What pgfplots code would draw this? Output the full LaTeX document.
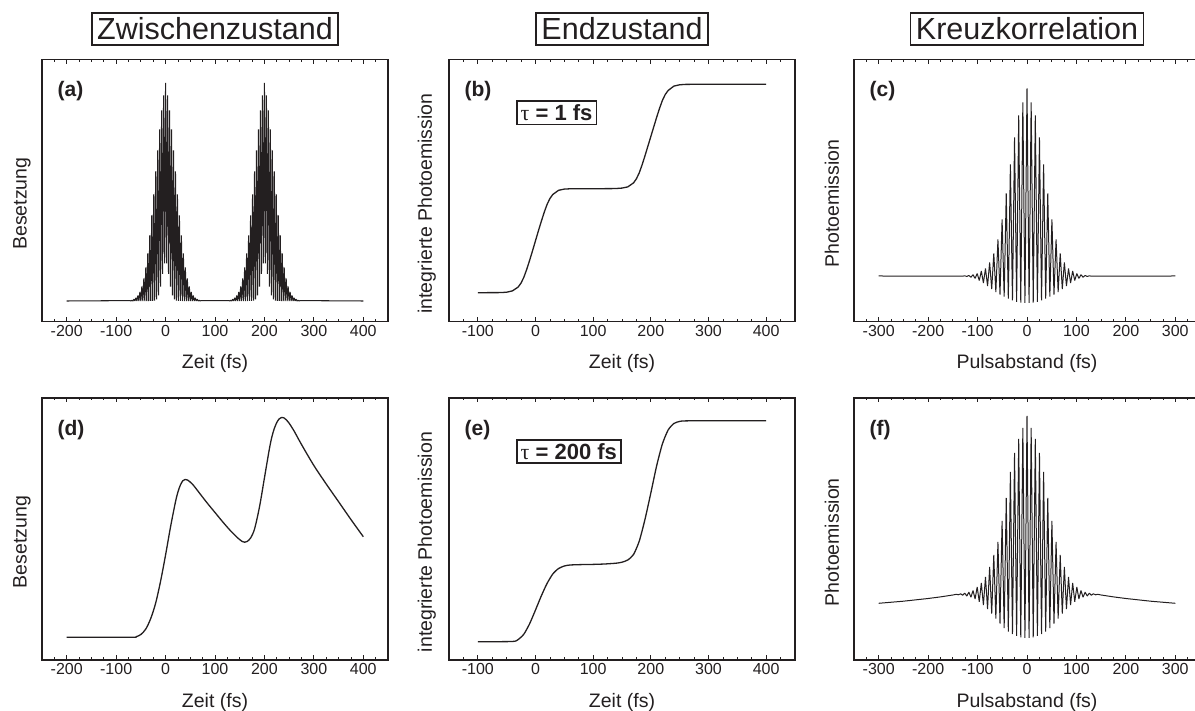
\documentclass[border=0pt]{standalone}
\usepackage{fontspec}
\setmainfont{Liberation Sans}
\newfontfamily\taufont{Liberation Serif}
\usepackage{pgfplots}
\pgfplotsset{compat=1.18}
\definecolor{ink}{RGB}{35,31,32}

\newcommand{\labelfont}{\fontsize{19.5}{22}\selectfont}
\pgfplotsset{
  panel/.style={
    scale only axis, width=346pt, height=262pt,
    anchor=south west,
    ymin=0, ymax=262,
    axis line style={line width=1.3pt, ink},
    tick style={line width=0.8pt, ink},
    tick align=inside,
    xtick distance=100, minor x tick num=3,
    ytick=\empty,
    major tick length=4.5pt, minor tick length=2.5pt,
    tick label style={font=\fontsize{16}{18}\selectfont, text=ink},
    /pgf/number format/assume math mode=true,
    every axis x label/.style={at={(axis description cs:0.5,0)}, anchor=center, yshift=-42pt,
      font=\labelfont, text=ink},
    every axis y label/.style={at={(axis description cs:-0.064,0.45)}, anchor=center, rotate=90,
      font=\labelfont, text=ink},
    every axis title/.style={at={(axis description cs:0.5,1)}, anchor=center, yshift=30.5pt,
      draw=ink, line width=1.8pt, inner xsep=5.5pt, inner ysep=4.5pt, text=ink,
      font=\fontsize{30.5}{34}\selectfont},
  },
  curve/.style={ink, line width=1pt, line join=bevel},
}
\newcommand{\panellabel}[1]{\node[anchor=west, text=ink, font=\fontsize{21}{24}\selectfont\bfseries]
  at (rel axis cs:0.035,0.878) {(#1)};}
\newcommand{\taubox}[1]{\node[anchor=west, draw=ink, line width=1.8pt, inner xsep=4pt, inner ysep=3.5pt, text=ink,
  font=\fontsize{22}{24}\selectfont\bfseries] at (rel axis cs:0.193,0.796) {{\taufont\mdseries τ} = #1 fs};}

\begin{document}
\begin{tikzpicture}
\useasboundingbox (0,0) rectangle (1195pt,711pt);

% (a) intermediate-state population, tau = 1 fs
\begin{axis}[panel, at={(42pt,389.5pt)}, xmin=-250, xmax=450,
  minor ytick={20,40,...,240},
  title={Zwischenzustand}, xlabel={Zeit (fs)}, ylabel={Besetzung},
  every axis y label/.append style={at={(axis description cs:-0.058,0.45)}}]
\addplot[curve, line width=1.05pt] coordinates {
(-200,20.5) (-72,20.9) (-70,20.5) (-68,21.3) (-66,20.5) (-64,22.3) (-62,20.5) (-60,23.7) (-58,20.5)
(-56,26) (-54,20.5) (-52,29.5) (-50,20.5) (-48,35) (-46,20.5) (-44,43) (-42,20.5) (-40,54) (-38,20.5)
(-36,68) (-34,20.5) (-32,86) (-30,20.5) (-28,106) (-26,20.5) (-24,127) (-22,20.8) (-20,150) (-18,22)
(-16,171) (-14,26) (-12,192) (-10,34.8) (-8,211) (-6,47.7) (-4,226) (-2,58) (0,238.5) (2,58) (4,226)
(6,47.7) (8,211) (10,34.8) (12,192) (14,26) (16,171) (18,22) (20,150) (22,20.8) (24,127) (26,20.5)
(28,106) (30,20.5) (32,86) (34,20.5) (36,68) (38,20.5) (40,54) (42,20.5) (44,43) (46,20.5) (48,35)
(50,20.5) (52,29.5) (54,20.5) (56,26) (58,20.5) (60,23.7) (62,20.5) (64,22.3) (66,20.5) (68,21.3)
(70,20.5) (72,20.9)
(128,20.9) (130,20.5) (132,21.3) (134,20.5) (136,22.3) (138,20.5) (140,23.7) (142,20.5) (144,26)
(146,20.5) (148,29.5) (150,20.5) (152,35) (154,20.5) (156,43) (158,20.5) (160,54) (162,20.5) (164,68)
(166,20.5) (168,86) (170,20.5) (172,106) (174,20.5) (176,127) (178,20.8) (180,150) (182,22) (184,171)
(186,26) (188,192) (190,34.8) (192,211) (194,47.7) (196,226) (198,58) (200,238.5) (202,58) (204,226)
(206,47.7) (208,211) (210,34.8) (212,192) (214,26) (216,171) (218,22) (220,150) (222,20.8) (224,127)
(226,20.5) (228,106) (230,20.5) (232,86) (234,20.5) (236,68) (238,20.5) (240,54) (242,20.5) (244,43)
(246,20.5) (248,35) (250,20.5) (252,29.5) (254,20.5) (256,26) (258,20.5) (260,23.7) (262,20.5)
(264,22.3) (266,20.5) (268,21.3) (270,20.5) (272,20.9) (400,20.5)
};
\panellabel{a}
\end{axis}

% (b) integrated photoemission, tau = 1 fs
\begin{axis}[panel, at={(449pt,389.5pt)}, xmin=-150, xmax=450,
  minor ytick={29.8,44.5,...,251},
  title={Endzustand}, xlabel={Zeit (fs)}, ylabel={integrierte Photoemission}]
\addplot[curve, line width=1.3pt] coordinates {
(-100,28.8) (-60,28.9) (-50,29.3) (-40,30.6) (-30,34.5) (-25,38.5) (-20,44.5) (-15,52.5)
(-10,61.5) (-5,71) (0,80.8) (5,90.6) (10,100) (15,109) (20,117) (25,123) (30,127)
(40,131.2) (50,132.4) (60,132.7) (80,132.8) (130,132.85) (140,133.0) (150,133.4) (160,134.6)
(170,138.6) (175,142.7) (180,148.8) (185,156.9) (190,166) (195,175.5) (200,185.0) (205,194.5)
(210,204) (215,213) (220,221) (225,227) (230,231) (240,235.4) (250,236.7) (260,237.1)
(280,237.2) (400,237.2)
};
\panellabel{b}
\taubox{1}
\end{axis}

% (c) cross-correlation, tau = 1 fs
\begin{axis}[panel, at={(854pt,389.5pt)}, xmin=-350, xmax=350,
  minor ytick={19.8,38.2,...,250},
  title={Kreuzkorrelation}, xlabel={Pulsabstand (fs)}, ylabel={Photoemission}]
\addplot[curve, line width=1pt] coordinates {
(-300,45.5) (-130.2,45.3) (-126,45.7) (-121.8,45) (-117.6,46) (-113.4,44.3) (-109.2,46.8) (-105,43)
(-100.8,48) (-96.6,41) (-92.4,50.5) (-88.2,38.5) (-84,53) (-79.8,35.5) (-75.6,59) (-71.4,32.5)
(-67.2,68) (-63,29.5) (-58.8,82) (-54.6,27) (-50.4,102) (-46.2,24.8) (-42,128) (-37.8,22.8)
(-33.6,157) (-29.4,21) (-25.2,184) (-21,19.6) (-16.8,206) (-12.6,18.8) (-8.4,219) (-4.2,18.5)
(0,233) (4.2,18.5) (8.4,219) (12.6,18.8) (16.8,206) (21,19.6) (25.2,184) (29.4,21) (33.6,157)
(37.8,22.8) (42,128) (46.2,24.8) (50.4,102) (54.6,27) (58.8,82) (63,29.5) (67.2,68) (71.4,32.5)
(75.6,59) (79.8,35.5) (84,53) (88.2,38.5) (92.4,50.5) (96.6,41) (100.8,48) (105,43) (109.2,46.8)
(113.4,44.3) (117.6,46) (121.8,45) (126,45.7) (130.2,45.3) (300,45.5)
};
\panellabel{c}
\end{axis}

% (d) intermediate-state population, tau = 200 fs
\begin{axis}[panel, at={(42pt,51pt)}, xmin=-250, xmax=450,
  minor ytick={22.7,30,...,255},
  xlabel={Zeit (fs)}, ylabel={Besetzung},
  every axis y label/.append style={at={(axis description cs:-0.058,0.45)}}]
\addplot[curve, line width=1.3pt, smooth, tension=0.5] coordinates {
(-200,22.7) (-70,22.8) (-60,23.2) (-50,25.5) (-40,31) (-30,41.5) (-20,57) (-10,79) (0,105) (10,133)
(20,158) (25,168) (30,175) (35,179.3) (40,180.6) (45,179.8) (55,175.5) (70,166) (85,156.5) (100,147.5)
(115,138.5) (130,130) (145,122.5) (155,118.5) (160,117.8) (165,118.5) (172,122) (180,131) (190,153)
(200,182) (210,211) (215,223) (220,231.5) (225,237.5) (230,241.2) (235,242.6) (240,242) (245,239.8)
(250,236.8) (260,229) (275,215.5) (300,194.5) (325,176) (350,158.3) (375,140.5) (400,123.3)
};
\panellabel{d}
\end{axis}

% (e) integrated photoemission, tau = 200 fs
\begin{axis}[panel, at={(449pt,51pt)}, xmin=-150, xmax=450,
  minor ytick={18.3,25.6,...,255},
  xlabel={Zeit (fs)}, ylabel={integrierte Photoemission}]
\addplot[curve, line width=1.3pt, smooth, tension=0.4] coordinates {
(-100,18.3) (-40,18.5) (-30,20.5) (-20,26) (-10,36.5) (0,50) (10,64) (20,76.5) (30,86) (40,91.5)
(50,94) (60,95) (80,95.4) (100,95.6) (120,96) (140,96.8) (150,97.8) (160,100) (170,105.5) (180,119)
(190,141) (200,167) (210,194) (220,216) (230,230) (240,236.5) (250,238.6) (260,239.1) (300,239.3)
(400,239.3)
};
\panellabel{e}
\taubox{200}
\end{axis}

% (f) cross-correlation, tau = 200 fs
\begin{axis}[panel, at={(854pt,51pt)}, xmin=-350, xmax=350,
  minor ytick={21.7,32.7,...,255},
  xlabel={Pulsabstand (fs)}, ylabel={Photoemission}]
\addplot[curve, line width=1pt] coordinates {
(-300,56.7) (-250,58.8) (-200,61.5) (-175,63.1) (-150,65.0) (-142.8,65.7) (-138.6,65.2) (-134.4,66.2)
(-130.2,64.8) (-126,66.8) (-121.8,64) (-117.6,67.8) (-113.4,62.8) (-109.2,69.5) (-105,61) (-100.8,73)
(-96.6,58.3) (-92.4,77) (-88.2,55) (-84,83) (-79.8,51) (-75.6,93) (-71.4,46.5) (-67.2,105) (-63,41.5)
(-58.8,118) (-54.6,36.5) (-50.4,139) (-46.2,32) (-42,162) (-37.8,28.5) (-33.6,188) (-29.4,26)
(-25.2,207) (-21,24) (-16.8,221) (-12.6,22.5) (-8.4,232) (-4.2,22) (0,244) (4.2,22) (8.4,232)
(12.6,22.5) (16.8,221) (21,24) (25.2,207) (29.4,26) (33.6,188) (37.8,28.5) (42,162) (46.2,32)
(50.4,139) (54.6,36.5) (58.8,118) (63,41.5) (67.2,105) (71.4,46.5) (75.6,93) (79.8,51) (84,83)
(88.2,55) (92.4,77) (96.6,58.3) (100.8,73) (105,61) (109.2,69.5) (113.4,62.8) (117.6,67.8) (121.8,64)
(126,66.8) (130.2,64.8) (134.4,66.2) (138.6,65.2) (142.8,65.7) (150,65.0) (175,63.1) (200,61.5)
(250,58.8) (300,56.7)
};
\panellabel{f}
\end{axis}
\end{tikzpicture}
\end{document}
